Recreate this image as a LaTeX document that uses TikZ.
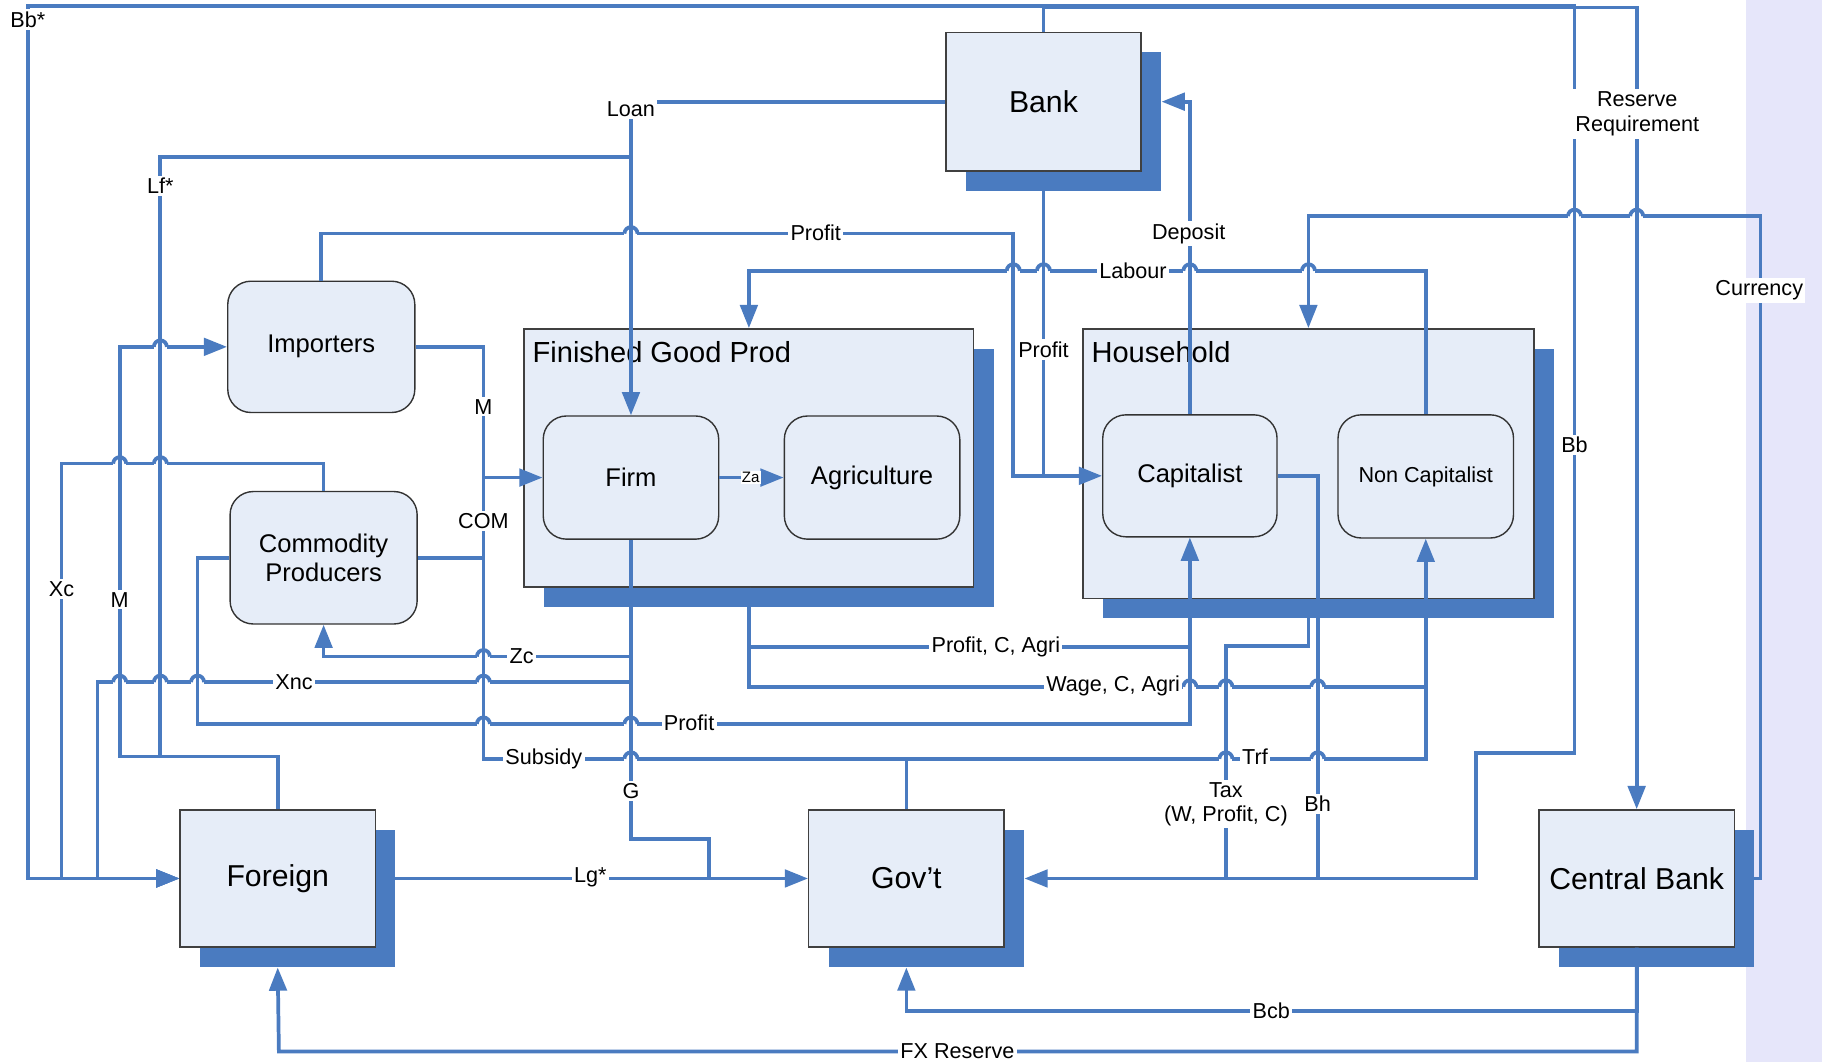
\documentclass[tikz,border=0pt]{standalone}
\usepackage{fontspec}
\setmainfont{Liberation Sans}
\usetikzlibrary{arrows.meta,shadows}
\definecolor{lb}{RGB}{74,123,192}
\definecolor{boxfill}{RGB}{230,237,248}
\definecolor{stripc}{RGB}{230,230,250}
\newcommand{\flowhop}[2]{%
  \fill[white] ({#1-5.6},{#2-2.2}) rectangle ({#1+5.6},{#2+2.2});
  \draw[flow] ({#1-5.6},#2) arc[start angle=180,end angle=0,radius=2.8pt];
  \draw[flow] (#1,{#2-4}) -- (#1,{#2+4});}
\begin{document}
\begin{tikzpicture}[x=0.5pt,y=-0.5pt,
  flow/.style={draw=lb,line width=1.6pt},
  arr/.style={-{Triangle[length=10pt,width=7.5pt]}},
  bigbox/.style={draw=black!75,line width=0.6pt,fill=boxfill,
    drop shadow={shadow xshift=8.5pt,shadow yshift=-8.5pt,fill=lb,opacity=1},
    font=\fontsize{13}{15}\selectfont,inner sep=0pt},
  rbox/.style={draw=black!80,line width=0.6pt,fill=boxfill,rounded corners=10pt,
    font=\fontsize{11}{12.5}\selectfont,inner sep=0pt,align=center},
  lbl/.style={fill=white,inner sep=1pt,font=\fontsize{9.3}{10.5}\selectfont,align=center},
  ttl/.style={anchor=west,inner sep=0pt,font=\fontsize{12.5}{14}\selectfont}
]
\useasboundingbox (0,0) rectangle (1568,914);
\fill[stripc] (1503,0) rectangle (1568,914);

% big boxes
\node[bigbox,minimum width=84pt,minimum height=59.5pt] (Bank) at (898,87.5) {Bank};
\node[bigbox,minimum width=193.5pt,minimum height=111pt] (FGP) at (644.5,394) {};
\node[bigbox,minimum width=194pt,minimum height=116pt] (HH) at (1126,399) {};
\node[bigbox,minimum width=84pt,minimum height=59pt] (Foreign) at (239,756) {Foreign};
\node[bigbox,minimum width=84pt,minimum height=59pt] (Gov) at (780,756) {Gov’t};
\node[bigbox,minimum width=84pt,minimum height=59pt] (CB) at (1408.5,756) {Central Bank};
\node[ttl] (FGPt) at (458,303) {Finished Good Prod};
\node[ttl] (HHt) at (939,303) {Household};

% rounded boxes
\node[rbox,minimum width=80.5pt,minimum height=56.5pt] (Imp) at (276.5,298.5) {Importers};
\node[rbox,minimum width=80.5pt,minimum height=57pt] (CP) at (278.5,480) {Commodity\\Producers};
\node[rbox,minimum width=75.5pt,minimum height=53pt] (Firm) at (543,411) {Firm};
\node[rbox,minimum width=75.5pt,minimum height=53pt] (Agri) at (750.5,411) {Agriculture};
\node[rbox,minimum width=75pt,minimum height=52.5pt] (Cap) at (1024,409.5) {Capitalist};
\node[rbox,minimum width=75.5pt,minimum height=53pt,font=\fontsize{9.3}{11}\selectfont] (NCap) at (1227,410) {Non Capitalist};

% connectors
\draw[flow,arr] (Bank.west) -| (Firm.north);                       % Loan
\draw[flow] (Foreign.north) |- (138,651) -- (138,135) -- (543,135);  % Lf*
\draw[flow,arr] (Foreign.north) |- (103,651) |- (Imp.west);          % M
\draw[flow,arr] (CP.north) |- (53,399) |- (Foreign.west);            % Xc
\draw[flow,arr] (Firm.south) |- (84,587) |- (Foreign.west);          % Xnc
\draw[flow,arr] (Firm.south) -- (543,565) -| (CP.south);             % Zc
\draw[flow] (Firm.south) -- (543,722) -| (610,756);                  % G
\draw[flow,arr] (Foreign.east) -- (Gov.west);                        % Lg*
\draw[flow,arr] (Imp.east) -| (416,411) -- (Firm.west);              % M
\draw[flow] (CP.east) -| (416,411);                                  % COM
\draw[flow] (Gov.north) |- (416,653) -- (416,480);                   % Subsidy
\draw[flow,arr] (Gov.north) |- (1227,653) -- (NCap.south);           % Trf
\draw[flow,arr] (CP.west) -| (170,623) -| (Cap.south);               % Profit
\draw[flow] (FGP.south) |- (1024,557);                               % Profit, C, Agri
\draw[flow] (FGP.south) |- (1227,591);                               % Wage, C, Agri
\draw[flow,arr] (NCap.north) -- (1227,233) -| (FGP.north);           % Labour
\draw[flow,arr] (Cap.north) |- ([xshift=8.5pt]Bank.east);            % Deposit
\draw[flow,arr] (Imp.north) |- (872,201) |- (Cap.west);              % Profit
\draw[flow] (Bank.south) -- (Bank.south |- Cap.west);                % Profit (bank)
\draw[flow] (Cap.east) -| (1134,756);                                % Bh
\draw[flow] (HH.south) -- (1126,556) -| (1055,756);                  % Tax
\draw[flow,arr] (Bank.north) |- (1355,5) -- (1355,648) -| (1270,756) -- ([xshift=8.5pt]Gov.east); % Bb
\draw[flow,arr] (Bank.north) |- (24,5) |- (Foreign.west);            % Bb*
\draw[flow,arr] (Bank.north) |- (1408.5,6.5) -- (CB.north);          % Reserve
\draw[flow,arr] (CB.east) -| (1515,186) -| (HH.north);               % Currency
\draw[flow,arr] (CB.south) |- (780,870) -- ([yshift=-8.5pt]Gov.south);     % Bcb
\draw[flow,arr] (CB.south) |- (240,905) -- ([yshift=-8.5pt]Foreign.south); % FX Reserve
\draw[flow,arr] (Firm.east) -- (Agri.west);                          % Za

% hops
\flowhop{543}{201}
\flowhop{872}{233}\flowhop{898}{233}\flowhop{1024}{233}\flowhop{1126}{233}
\flowhop{1355}{186}\flowhop{1408.5}{186}
\flowhop{138}{298.5}
\flowhop{103}{399}\flowhop{138}{399}
\flowhop{416}{565}
\flowhop{103}{587}\flowhop{138}{587}\flowhop{170}{587}\flowhop{416}{587}
\flowhop{416}{623}\flowhop{543}{623}
\flowhop{543}{653}\flowhop{1055}{653}\flowhop{1134}{653}
\flowhop{1024}{591}\flowhop{1055}{591}\flowhop{1134}{591}

% labels
\node[lbl] (lBbs) at (24,17) {Bb*};
\node[lbl] (lLoan) at (543,94) {Loan};
\node[lbl] (lLf) at (138,160) {Lf*};
\node[lbl] (lPr1) at (702,200) {Profit};
\node[lbl] (lDep) at (1023,201) {Deposit};
\node[lbl] (lLab) at (975,233) {Labour};
\node[lbl,font=\fontsize{9.3}{11}\selectfont] (lRes) at (1409,98) {Reserve\\Requirement};
\node[lbl] (lCur) at (1514,250) {Currency};
\node[lbl] (lPr2) at (898,301) {Profit};
\node[lbl] (lM1) at (416,350) {M};
\node[lbl] (lCOM) at (416,448) {COM};
\node[lbl] (lBb) at (1355,383) {Bb};
\node[lbl,font=\fontsize{6.5}{7}\selectfont,inner sep=0.5pt] (lZa) at (646,411) {Za};
\node[lbl] (lXc) at (53,507) {Xc};
\node[lbl] (lM2) at (103,516) {M};
\node[lbl] (lZc) at (449,565) {Zc};
\node[lbl] (lXnc) at (253,587) {Xnc};
\node[lbl] (lPCA) at (857,557) {Profit, C, Agri};
\node[lbl] (lWCA) at (958,590) {Wage, C, Agri};
\node[lbl] (lPr3) at (593,622) {Profit};
\node[lbl] (lSub) at (468,653) {Subsidy};
\node[lbl] (lTrf) at (1080,651) {Trf};
\node[lbl] (lG) at (543,681) {G};
\node[lbl,font=\fontsize{9.3}{10.5}\selectfont] (lTax) at (1055,692) {Tax\\(W, Profit, C)};
\node[lbl] (lBh) at (1134,692) {Bh};
\node[lbl] (lLg) at (508,755) {Lg*};
\node[lbl] (lBcb) at (1094,870) {Bcb};
\node[lbl] (lFX) at (824,905) {FX Reserve};
\end{tikzpicture}
\end{document}
